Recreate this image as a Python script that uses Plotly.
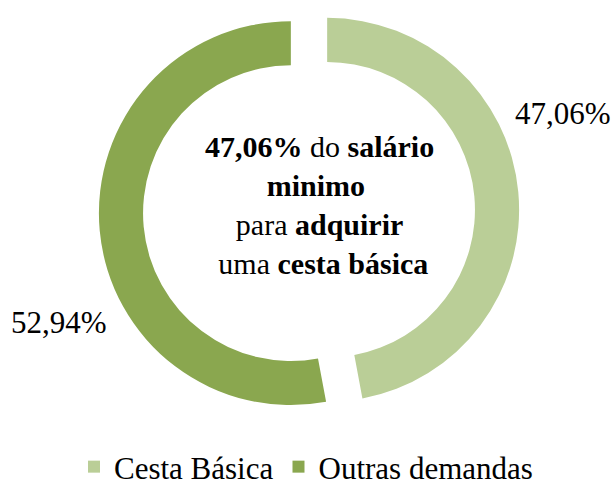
import plotly.graph_objects as go

categories = ["Cesta Básica", "Outras demandas"]
values = [47.06, 52.94]
colors = ["#BACE97", "#8AA74F"]

W, H = 615, 494
FONT = "Liberation Serif, Times New Roman, serif"

def fmt(v):
    return f"{v:.2f}".replace(".", ",") + "%"

fig = go.Figure()
fig.add_trace(go.Pie(
    labels=categories,
    values=values,
    marker=dict(colors=colors, line=dict(width=0)),
    hole=0.77,
    pull=[0.095, 0.095],
    sort=False,
    direction="clockwise",
    rotation=0,
    textinfo="none",
    hoverinfo="label+percent",
    domain=dict(x=[0.1607, 0.8442], y=[0.1464, 0.9974]),
    showlegend=True,
))

# outside percentage labels
label_pos = [(563, 113), (59, 322)]
for v, (px, py) in zip(values, label_pos):
    fig.add_annotation(
        x=px / W, y=1 - py / H, xref="paper", yref="paper",
        text=fmt(v), showarrow=False,
        font=dict(family=FONT, size=31, color="black"),
        xanchor="center", yanchor="middle",
    )

# centre text
center_text = (f"<b>{fmt(values[0])}</b> do <b>salário</b><br>"
               "<b>minimo</b> <br>"
               "para <b>adquirir</b><br>"
               " uma <b>cesta básica</b>")
fig.add_annotation(
    x=319 / W, y=1 - 205 / H, xref="paper", yref="paper",
    text=center_text, showarrow=False, align="center",
    font=dict(family=FONT, size=30, color="black"),
    xanchor="center", yanchor="middle",
)

fig.update_layout(
    width=W, height=H,
    margin=dict(l=0, r=0, t=0, b=0, pad=0, autoexpand=False),
    paper_bgcolor="white", plot_bgcolor="white",
    legend=dict(
        orientation="h",
        x=74 / W, xanchor="left",
        y=0, yanchor="bottom",
        font=dict(family=FONT, size=31, color="black"),
        bgcolor="rgba(0,0,0,0)",
    ),
)

fig.write_html("out.html")
